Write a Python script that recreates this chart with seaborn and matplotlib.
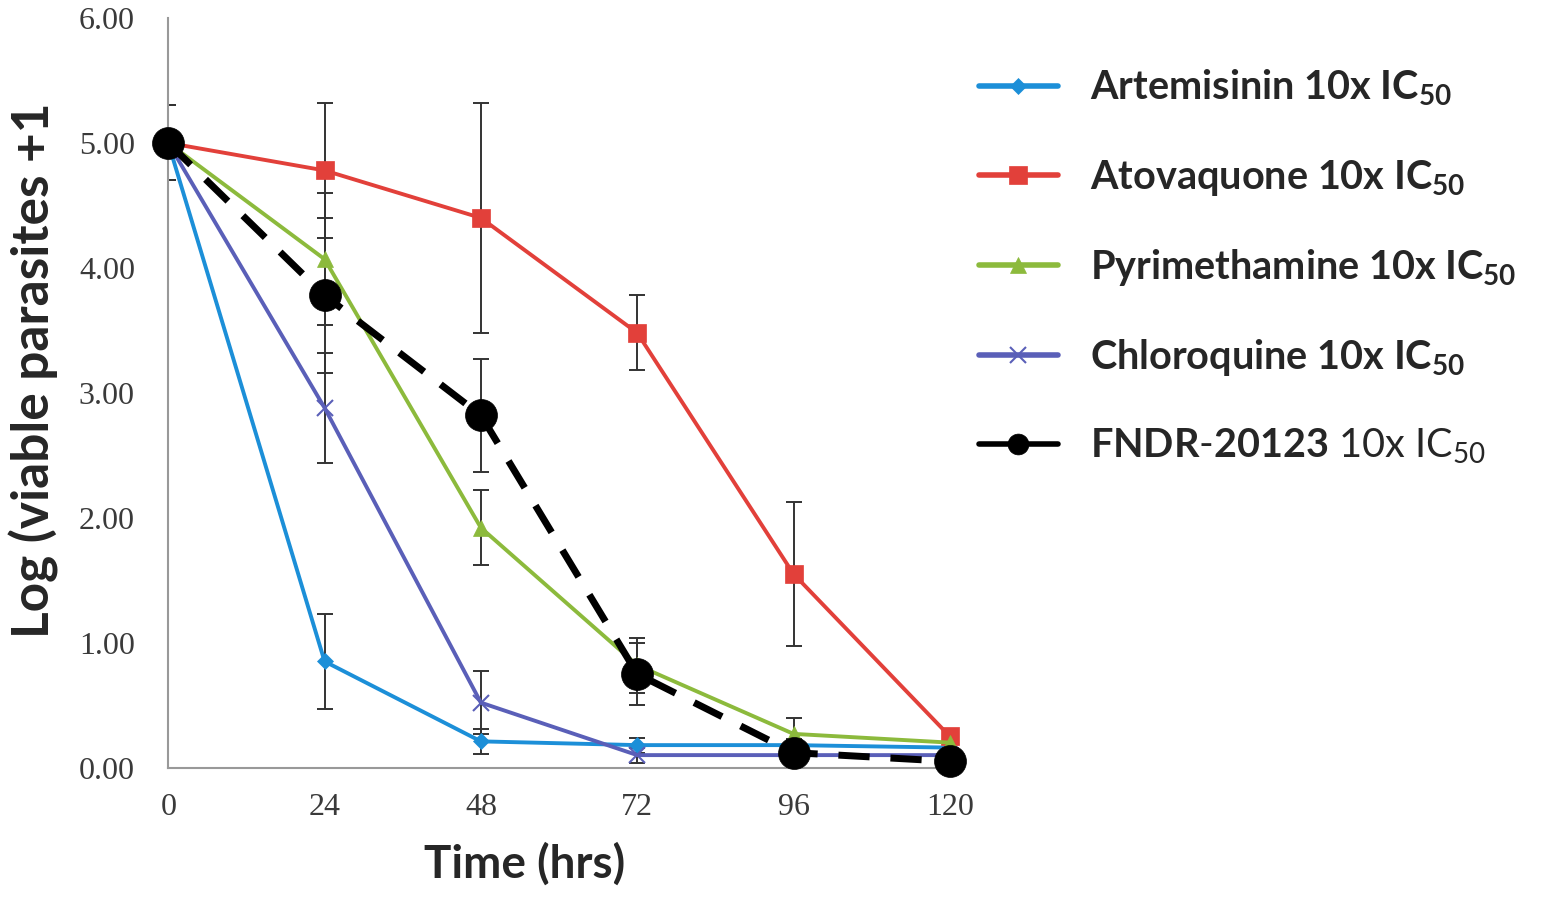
import matplotlib
matplotlib.use("Agg")
import matplotlib.pyplot as plt
from matplotlib.lines import Line2D
import numpy as np
import seaborn as sns

hours = [0, 24, 48, 72, 96, 120]

artemisinin = [5.00, 0.85, 0.21, 0.18, 0.18, 0.16]
artemisinin_err = [0.30, 0.38, 0.10, 0.06, 0.05, 0.04]

atovaquone = [5.00, 4.78, 4.40, 3.48, 1.55, 0.25]
atovaquone_err = [0.30, 0.54, 0.92, 0.30, 0.58, 0.05]

pyrimethamine = [5.00, 4.07, 1.92, 0.82, 0.27, 0.20]
pyrimethamine_err = [0.30, 0.53, 0.30, 0.22, 0.13, 0.04]

chloroquine = [5.00, 2.88, 0.52, 0.10, 0.10, 0.10]
chloroquine_err = [0.30, 0.44, 0.25, 0.06, 0.04, 0.03]

fndr = [5.00, 3.78, 2.82, 0.75, 0.12, 0.05]
fndr_err = [0.30, 0.62, 0.45, 0.25, 0.05, 0.03]

labels = [
    "Artemisinin 10x IC$_{50}$",
    "Atovaquone 10x IC$_{50}$",
    "Pyrimethamine 10x IC$_{50}$",
    "Chloroquine 10x IC$_{50}$",
    r"$\mathbf{FNDR}$-$\mathbf{20123}$ 10x IC$_{50}$",
]

series = [
    # values, errors, color, marker, size, linestyle
    (artemisinin, artemisinin_err, "#1c8fd8", "D", 8, "-"),
    (atovaquone, atovaquone_err, "#e2403a", "s", 13, "-"),
    (pyrimethamine, pyrimethamine_err, "#8cba3c", "^", 12, "-"),
    (chloroquine, chloroquine_err, "#5a5fb8", "x", 12, "-"),
    (fndr, fndr_err, "black", "o", 23, (0, (4.5, 3))),
]

sns.set_style("white")
plt.rcParams["font.family"] = ["Lato", "DejaVu Sans"]
plt.rcParams["mathtext.fontset"] = "custom"
plt.rcParams["mathtext.rm"] = "Lato"
plt.rcParams["mathtext.bf"] = "Lato:bold"
plt.rcParams["mathtext.default"] = "regular"

fig = plt.figure(figsize=(15.58, 9.02), dpi=100)
ax = fig.add_axes([0.108, 0.149, 0.51, 0.831])

for vals, errs, color, marker, ms, ls in series:
    ax.errorbar(hours, vals, yerr=errs, fmt="none", ecolor="#333333",
                elinewidth=1.4, capsize=6, capthick=1.4, zorder=2)
for vals, errs, color, marker, ms, ls in series:
    lw = 5 if color == "black" else 2.8
    sns.lineplot(x=hours, y=vals, ax=ax, color=color, linewidth=lw,
                 linestyle=ls, marker=marker, markersize=ms,
                 markeredgecolor=color, markeredgewidth=1.5 if marker == "x" else 0.5,
                 clip_on=False, zorder=3, legend=False)

ax.set_xlim(0, 122)
ax.set_ylim(0, 6)
ax.set_xticks(hours)
ax.set_yticks(np.arange(0, 7, 1))
ax.set_yticklabels([f"{v:.2f}" for v in np.arange(0, 7, 1)])
ax.tick_params(axis="both", which="both", direction="out", length=6, width=1.2,
               color="#888888", labelsize=23)
ax.tick_params(axis="y", pad=18)
ax.tick_params(axis="x", pad=12)
for lab in ax.get_xticklabels() + ax.get_yticklabels():
    lab.set_family(["Liberation Serif"])
    lab.set_color("#3a3a3a")

for side in ["top", "right"]:
    ax.spines[side].set_visible(False)
for side in ["left", "bottom"]:
    ax.spines[side].set_color("#999999")
    ax.spines[side].set_linewidth(1.5)

ax.set_xlabel("Time (hrs)", fontsize=33, fontweight="bold")
ax.set_ylabel("Log (viable parasites +1", fontsize=37, fontweight="bold")
ax.xaxis.set_label_coords(0.449, -0.10)
ax.yaxis.set_label_coords(-0.138, 0.53)

handles = [
    Line2D([0], [0], color=c, marker=m, markersize=min(ms, 15), linewidth=4,
           markeredgecolor=c, markeredgewidth=1.5 if m == "x" else 0.5)
    for _, _, c, m, ms, _ in series
]
leg = fig.legend(handles, labels, loc="upper left", bbox_to_anchor=(0.618, 0.942),
                 frameon=False, fontsize=28.5, handlelength=2.0, labelspacing=1.24,
                 handletextpad=0.8, borderaxespad=0)
for t in leg.get_texts()[:4]:
    t.set_fontweight("bold")

fig.savefig("out.png", dpi=100)
